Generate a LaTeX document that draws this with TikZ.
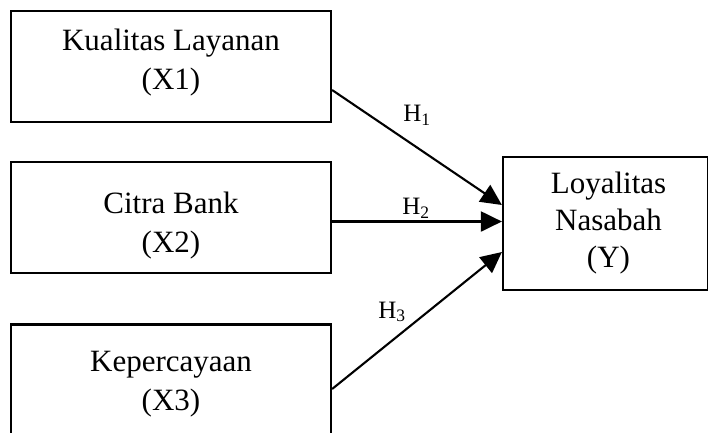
\documentclass[tikz,border=0pt]{standalone}
\usepackage{fontspec}
\setmainfont{Liberation Serif}
\usetikzlibrary{arrows.meta}
\begin{document}
\begin{tikzpicture}[x=1pt,y=-1pt,
  varbox/.style={draw,line width=2.2pt,rectangle,inner sep=0pt},
  vartext/.style={align=center,inner sep=0pt,font=\fontsize{31}{39}\selectfont},
  hlabel/.style={font=\fontsize{25}{28}\selectfont,inner sep=0pt},
  path/.style={line width=2.1pt,-{Triangle[length=21pt,width=20pt]}}]
\useasboundingbox (0,0) rectangle (708,432);
\clip (0,0) rectangle (708,432);
\node[varbox,minimum width=320pt,minimum height=111pt] (x1) at (171,66.5) {};
\node[varbox,minimum width=320pt,minimum height=111pt] (x2) at (171,217.5) {};
\node[varbox,minimum width=320pt,minimum height=111pt] (x3) at (171,380) {};
\node[varbox,minimum width=205pt,minimum height=133pt] (y) at (605.5,223.5) {};
\node[vartext] (x1t) at ([yshift=3.5pt]x1.center) {Kualitas Layanan\\(X1)};
\node[vartext] (x2t) at ([yshift=-8pt]x2.center) {Citra Bank\\(X2)};
\node[vartext] (x3t) at ([yshift=-4pt]x3.center) {Kepercayaan\\(X3)};
\node[vartext,font=\fontsize{31}{37}\selectfont] (yt) at ([xshift=3pt]y.center) {Loyalitas\\Nasabah\\(Y)};
\draw[path] ([yshift=-23.5pt]x1.east) -- ([yshift=18.5pt]y.west);
\draw[path] ([yshift=-4pt]x2.east) -- ([yshift=2pt]y.west);
\draw[path] ([yshift=-9pt]x3.east) -- ([yshift=-28.5pt]y.west);
\node[hlabel] (h1) at (417,115) {H\textsubscript{1}};
\node[hlabel] (h2) at (416,208) {H\textsubscript{2}};
\node[hlabel] (h3) at (392,312) {H\textsubscript{3}};
\end{tikzpicture}
\end{document}
